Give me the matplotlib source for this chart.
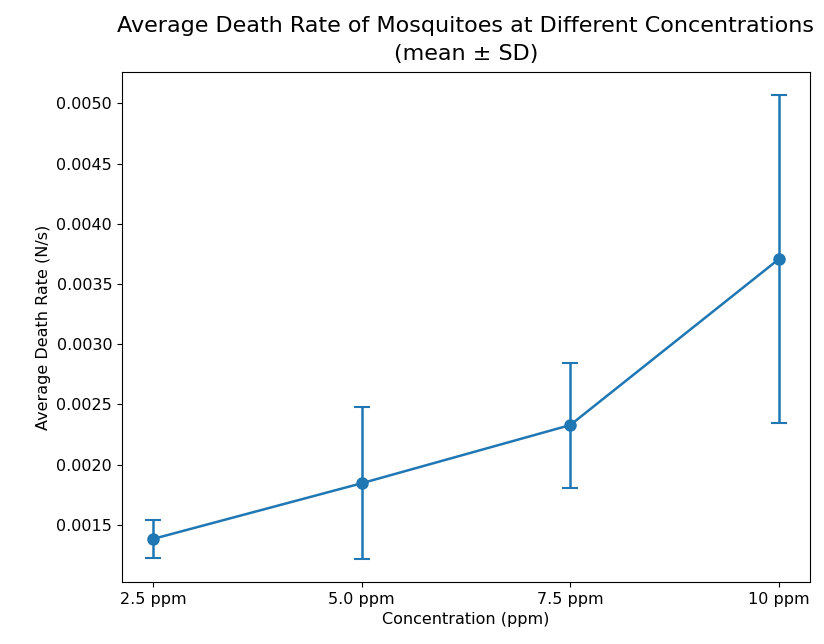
import matplotlib
matplotlib.use('Agg')
from matplotlib import pyplot as plt

# البيانات
concentrations = ['2.5 ppm', '5.0 ppm', '7.5 ppm', '10 ppm']
mean_rate = [0.001384, 0.001846, 0.002329, 0.003706]
sd_rate = [0.000155, 0.000629, 0.000519, 0.001361]

fig, ax = plt.subplots(figsize=(8.24, 6.44), dpi=100)
fig.subplots_adjust(left=0.148, right=0.983, top=0.888, bottom=0.096)

ax.errorbar(concentrations, mean_rate, yerr=sd_rate, fmt='-o', color='#1f77b4',
            capsize=6, markersize=8, linewidth=1.8, elinewidth=1.8, capthick=1.5)

ax.set_title('Average Death Rate of Mosquitoes at Different Concentrations\n(mean ± SD)',
             fontsize=16, pad=9, linespacing=1.5)
ax.set_xlabel('Concentration (ppm)', fontsize=11.5)
ax.set_ylabel('Average Death Rate (N/s)', fontsize=11.5)
ax.tick_params(labelsize=11.5)

plt.savefig('out.png')
